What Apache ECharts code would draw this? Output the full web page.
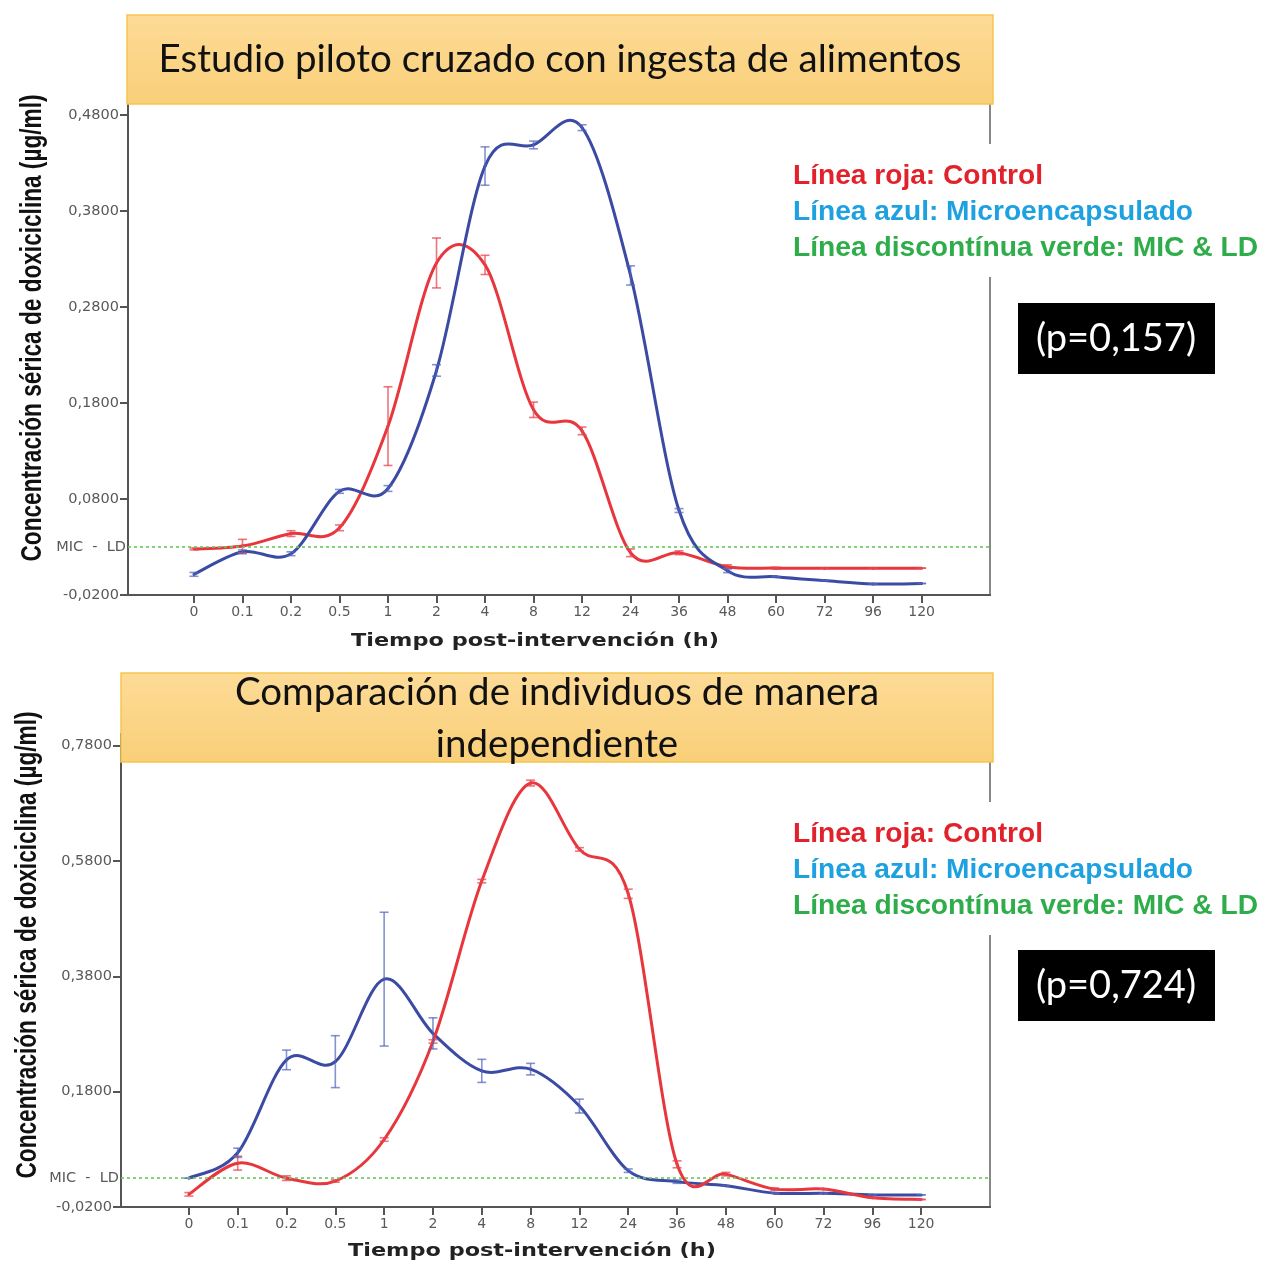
<!DOCTYPE html>
<html>
<head>
<meta charset="utf-8">
<script src="https://cdn.jsdelivr.net/npm/echarts@6/dist/echarts.min.js"></script>
<style>
html,body{margin:0;padding:0;background:#fff;}
#chart{width:1264px;height:1262px;}
</style>
</head>
<body>
<div id="chart"></div>
<script>
// ---- data ----
const categories = ['0','0.1','0.2','0.5','1','2','4','8','12','24','36','48','60','72','96','120'];
const topYTicks = [-0.02, 0.08, 0.18, 0.28, 0.38, 0.48];
const botYTicks = [-0.02, 0.18, 0.38, 0.58, 0.78];
const micLD = 0.03;
const micLabel = 'MIC  -  LD';

const topControl = [0.028, 0.031, 0.044, 0.050, 0.156, 0.326, 0.324, 0.173, 0.151, 0.024, 0.024, 0.0095, 0.008, 0.008, 0.008, 0.008];
const topControlErr = [0.001, 0.007, 0.003, 0.003, 0.041, 0.026, 0.010, 0.008, 0.004, 0.004, 0.002, 0.002, 0.001, 0, 0, 0];
const topMicro = [0.0015, 0.025, 0.023, 0.088, 0.091, 0.214, 0.427, 0.449, 0.467, 0.313, 0.068, 0.0053, -0.001, -0.005, -0.0085, -0.008];
const topMicroErr = [0.002, 0.002, 0.002, 0.002, 0.003, 0.006, 0.020, 0.004, 0.003, 0.010, 0.002, 0.002, 0, 0, 0, 0];

const botControl = [0.002, 0.056, 0.030, 0.025, 0.097, 0.267, 0.545, 0.715, 0.600, 0.523, 0.054, 0.037, 0.011, 0.011, -0.004, -0.007];
const botControlErr = [0.003, 0.012, 0.004, 0.002, 0.003, 0.003, 0.003, 0.005, 0.003, 0.008, 0.006, 0.003, 0.002, 0, 0, 0];
const botMicro = [0.030, 0.074, 0.235, 0.232, 0.375, 0.281, 0.216, 0.219, 0.155, 0.043, 0.024, 0.017, 0.004, 0.004, 0.001, 0.001];
const botMicroErr = [0, 0.008, 0.017, 0.045, 0.116, 0.027, 0.020, 0.010, 0.012, 0.003, 0.003, 0, 0, 0, 0, 0];

const titleTop = ['Estudio piloto cruzado con ingesta de alimentos'];
const titleBot = ['Comparación de individuos de manera', 'independiente'];
const yTitle = 'Concentración sérica de doxiciclina (µg/ml)';
const xTitle = 'Tiempo post-intervención (h)';
const legendTexts = ['Línea roja: Control', 'Línea azul: Microencapsulado', 'Línea discontínua verde: MIC & LD'];
const pTop = '(p=0,157)';
const pBot = '(p=0,724)';

// ---- styles ----
const RED = '#E8363D', BLUE = '#3B4BA3';
const RED_ERR = 'rgba(232,70,80,0.75)', BLUE_ERR = 'rgba(80,100,190,0.7)';
const legendColors = ['#E2222B', '#1DA1E0', '#2EAD4A'];
const legendWidths = [250, 400, 465];
const labelFont = 'DejaVu Sans';
const labelColor = '#595959';

const measureCtx = document.createElement('canvas').getContext('2d');
function fitScale(text, font, target) {
  measureCtx.font = font;
  return target / measureCtx.measureText(text).width;
}

const idx = categories.map((c, i) => i);
const errs = (arr, e) => arr.map((v, i) => [i, v - e[i], v + e[i]]);
function splineData(vals) {
  const n = vals.length, out = [];
  for (let i = 0; i < n - 1; i++) {
    const ip = i > 0 ? i - 1 : i;
    const inx = i + 2 < n ? i + 2 : i + 1;
    out.push([i, vals[i], vals[i + 1], ip, vals[ip], inx, vals[inx]]);
  }
  return out;
}

function splineRender(color) {
  return function (params, api) {
    const i = api.value(0);
    const p1 = api.coord([i, api.value(1)]);
    const p2 = api.coord([i + 1, api.value(2)]);
    const p0 = api.coord([api.value(3), api.value(4)]);
    const p3 = api.coord([api.value(5), api.value(6)]);
    return {type: 'bezierCurve', shape: {
        x1: p1[0], y1: p1[1], x2: p2[0], y2: p2[1],
        cpx1: p1[0] + (p2[0] - p0[0]) / 6, cpy1: p1[1] + (p2[1] - p0[1]) / 6,
        cpx2: p2[0] - (p3[0] - p1[0]) / 6, cpy2: p2[1] - (p3[1] - p1[1]) / 6},
      style: {stroke: color, lineWidth: 3, fill: 'none', lineCap: 'round'}};
  };
}

function errRender(color) {
  return function (params, api) {
    const x = api.value(0);
    const lo = api.coord([x, api.value(1)]);
    const hi = api.coord([x, api.value(2)]);
    const w = 4.5;
    const st = {stroke: color, lineWidth: 1.6};
    return {type: 'group', children: [
      {type: 'line', shape: {x1: lo[0], y1: lo[1], x2: hi[0], y2: hi[1]}, style: st},
      {type: 'line', shape: {x1: lo[0]-w, y1: lo[1], x2: lo[0]+w, y2: lo[1]}, style: st},
      {type: 'line', shape: {x1: hi[0]-w, y1: hi[1], x2: hi[0]+w, y2: hi[1]}, style: st}
    ]};
  };
}

function xAxisCfg(gi, min, max) {
  return {
    type: 'value', gridIndex: gi, min: min, max: max,
    axisLine: {show: true, onZero: false, lineStyle: {color: '#555', width: 2}},
    axisTick: {show: true, customValues: idx, length: 8, lineStyle: {color: '#555', width: 2}},
    axisLabel: {customValues: idx, formatter: v => categories[Math.round(v)], color: labelColor,
      fontFamily: labelFont, fontSize: 14, margin: 10},
    splitLine: {show: false}
  };
}
function yAxisCfg(gi, min, max, ticks) {
  return {
    type: 'value', gridIndex: gi, min: min, max: max,
    axisLine: {show: true, onZero: false, lineStyle: {color: '#555', width: 2}},
    axisTick: {show: true, customValues: ticks, length: 8, lineStyle: {color: '#555', width: 2}},
    axisLabel: {customValues: ticks, formatter: v => v.toFixed(4).replace('.', ','), color: labelColor,
      fontFamily: labelFont, fontSize: 14.5, margin: 9},
    splitLine: {show: false}
  };
}
function curveSeries(xi, vals, color) {
  return {type: 'custom', xAxisIndex: xi, yAxisIndex: xi, data: splineData(vals),
    renderItem: splineRender(color), encode: {x: 0, y: [1, 2]}, z: 3, silent: true};
}
function errSeries(xi, data, color, mark) {
  const s = {type: 'custom', xAxisIndex: xi, yAxisIndex: xi, data: data, renderItem: errRender(color),
    encode: {x: 0, y: [1, 2]}, z: 4, silent: true};
  if (mark) {
    s.markLine = {silent: true, symbol: 'none', animation: false,
      lineStyle: {color: '#67C95B', type: [3, 3], width: 1.6},
      label: {show: true, position: 'start', formatter: micLabel, color: labelColor,
        fontFamily: labelFont, fontSize: 14.5, distance: 2},
      data: [{yAxis: micLD}]};
  }
  return s;
}

const titleFont = 'Lato';
function titleBox(x, y, w, h, lines, cy) {
  const els = [
    {type: 'rect', shape: {x: x, y: y, width: w, height: h}, z: 100,
      style: {fill: new echarts.graphic.LinearGradient(0, 0, 0, 1, [{offset: 0, color: '#FDDB97'}, {offset: 1, color: '#F9CF78'}]),
        stroke: '#F3C64E', lineWidth: 1.5}}];
  lines.forEach((t, i) => {
    els.push({type: 'text', x: x + w / 2, y: cy + 52 * i, z: 101,
      style: {text: t, fill: '#111', font: '38.5px "' + titleFont + '"', align: 'center', verticalAlign: 'middle'}});
  });
  return els;
}
function legendBlock(x, y0) {
  const els = [{type: 'rect', shape: {x: 785, y: y0 - 32, width: 479, height: 133}, z: 99, style: {fill: '#fff'}}];
  legendTexts.forEach((t, i) => {
    const font = 'bold 28px "Liberation Sans"';
    els.push({type: 'text', x: x, y: y0 + 36 * i, z: 101, scaleX: fitScale(t, font, legendWidths[i]),
      style: {text: t, fill: legendColors[i], font: font, align: 'left', verticalAlign: 'middle'}});
  });
  return els;
}
function pBox(y, text) {
  return [
    {type: 'rect', shape: {x: 1018, y: y, width: 197, height: 71}, z: 100, style: {fill: '#000'}},
    {type: 'text', x: 1116, y: y + 36, z: 101,
      style: {text: text, fill: '#fff', font: '38px "' + titleFont + '"', align: 'center', verticalAlign: 'middle'}}
  ];
}
function yTitleText(x, y) {
  const font = 'bold 29px "Liberation Sans"';
  return {type: 'text', x: x, y: y, rotation: Math.PI / 2, z: 101, scaleX: fitScale(yTitle, font, 467),
    style: {text: yTitle, fill: '#111', font: font, align: 'center', verticalAlign: 'middle'}};
}
function xTitleText(x, y) {
  const font = 'bold 18px "DejaVu Sans"';
  return {type: 'text', x: x, y: y, z: 101, scaleX: fitScale(xTitle, font, 368),
    style: {text: xTitle, fill: '#222', font: font, align: 'center', verticalAlign: 'middle'}};
}

const chart = echarts.init(document.getElementById('chart'), null, {renderer: 'canvas'});
chart.setOption({
  backgroundColor: '#fff',
  animation: false,
  grid: [
    {left: 128, right: 274, top: 96, bottom: 667, show: true, borderColor: '#888', borderWidth: 2, backgroundColor: 'transparent'},
    {left: 121, right: 274, top: 734, bottom: 55, show: true, borderColor: '#888', borderWidth: 2, backgroundColor: 'transparent'}
  ],
  xAxis: [xAxisCfg(0, -1.36, 16.41), xAxisCfg(1, -1.39, 16.41)],
  yAxis: [yAxisCfg(0, -0.02, 0.5, topYTicks), yAxisCfg(1, -0.02, 0.8, botYTicks)],
  series: [
    curveSeries(0, topControl, RED),
    curveSeries(0, topMicro, BLUE),
    errSeries(0, errs(topControl, topControlErr), RED_ERR, true),
    errSeries(0, errs(topMicro, topMicroErr), BLUE_ERR, false),
    curveSeries(1, botMicro, BLUE),
    curveSeries(1, botControl, RED),
    errSeries(1, errs(botControl, botControlErr), RED_ERR, true),
    errSeries(1, errs(botMicro, botMicroErr), BLUE_ERR, false)
  ],
  graphic: [].concat(
    titleBox(127, 15, 866, 89, titleTop, 60),
    titleBox(121, 673, 872, 89, titleBot, 693),
    legendBlock(793, 176),
    legendBlock(793, 834),
    pBox(303, pTop),
    pBox(950, pBot),
    [yTitleText(33, 328), yTitleText(28, 945), xTitleText(535, 641), xTitleText(532, 1251)]
  )
});
</script>
</body>
</html>
